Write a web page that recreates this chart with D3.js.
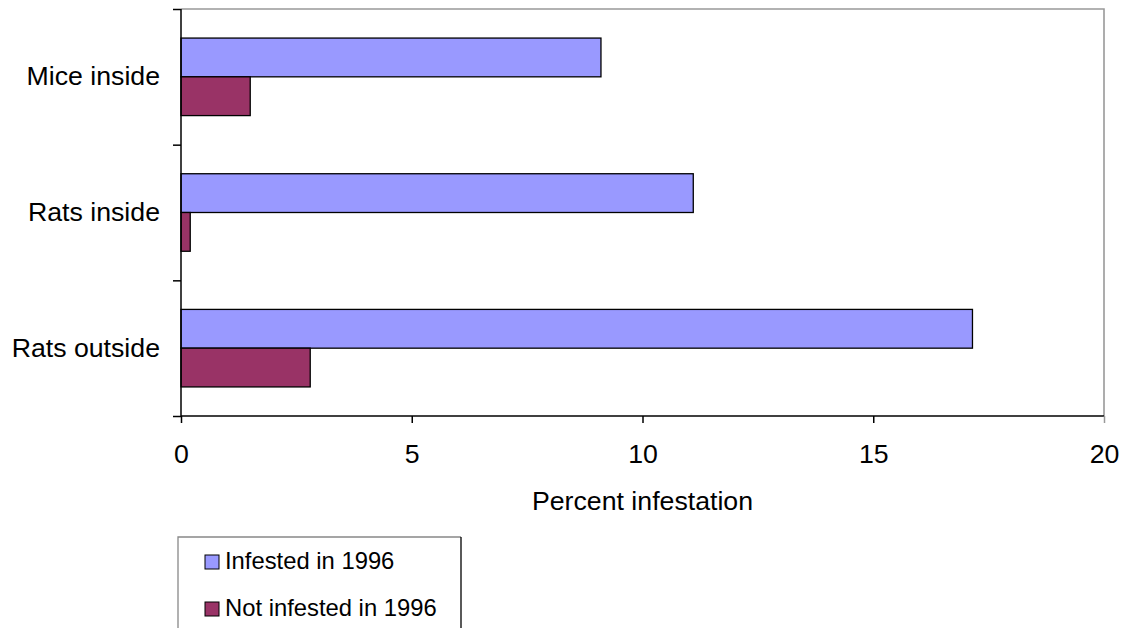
<!DOCTYPE html>
<html>
<head>
<meta charset="utf-8">
<script src="https://cdn.jsdelivr.net/npm/d3@7"></script>
<style>
  html, body { margin: 0; padding: 0; background: #fff; }
  svg { display: block; font-family: "Liberation Sans", Arial, sans-serif; }
</style>
</head>
<body>
<svg id="chart" width="1128" height="628"></svg>
<script>
const categories = ["Mice inside", "Rats inside", "Rats outside"];
const seriesNames = ["Infested in 1996", "Not infested in 1996"];
const infested1996 = [9.1, 11.1, 17.15];
const notInfested1996 = [1.5, 0.2, 2.8];
const xTicks = [0, 5, 10, 15, 20];
const colors = ["#9999FF", "#993366"];
const xTitle = "Percent infestation";

const svg = d3.select("#chart");
const L = 181, R = 1104, T = 9, B = 416;
const FS = 26.7;

const x = d3.scaleLinear().domain([0, 20]).range([L, R]);
const y = d3.scaleBand().domain(categories).range([T, B]).padding(0);
const barH = y.bandwidth() / 3.5;
const y1 = d3.scaleBand().domain(seriesNames).range([barH * 0.75, barH * 2.75]).padding(0);

// plot border (top / right gray)
svg.append("path")
  .attr("d", `M${L},${T}H${R}V${B}`)
  .attr("fill", "none").attr("stroke", "#999").attr("stroke-width", 1.6);

// bars
const series = [infested1996, notInfested1996];
series.forEach((vals, si) => {
  svg.append("g").selectAll("rect")
    .data(vals)
    .join("rect")
    .attr("x", x(0))
    .attr("y", (d, i) => y(categories[i]) + y1(seriesNames[si]))
    .attr("width", d => x(d) - x(0))
    .attr("height", y1.bandwidth())
    .attr("fill", colors[si])
    .attr("stroke", "#000")
    .attr("stroke-width", 1.3);
});

// x axis
const xAxis = svg.append("g").attr("transform", `translate(0,${B})`)
  .call(d3.axisBottom(x).tickValues(xTicks).tickSize(7).tickPadding(21).tickFormat(d3.format("d")));
xAxis.select(".domain").attr("stroke", "#000").attr("stroke-width", 1.5)
  .attr("d", `M${L},0H${R}`);
xAxis.selectAll(".tick line").attr("stroke", (d) => d === 20 ? "#999" : "#000").attr("stroke-width", 1.5);
xAxis.selectAll(".tick text").attr("font-size", FS).attr("fill", "#000")
  .attr("font-family", "Liberation Sans, Arial, sans-serif");

// y axis ticks at band boundaries
const yb = d3.scaleLinear().domain([0, categories.length]).range([B, T]);
const yAxis = svg.append("g").attr("transform", `translate(${L},0)`)
  .call(d3.axisLeft(yb).tickValues(d3.range(categories.length + 1)).tickSize(8).tickFormat(""));
yAxis.select(".domain").attr("stroke", "#000").attr("stroke-width", 1.5).attr("d", `M0,${T}V${B}`);
yAxis.selectAll(".tick line").attr("stroke", "#000").attr("stroke-width", 1.5);

// category labels
const yLab = svg.append("g").attr("transform", `translate(${L},0)`)
  .call(d3.axisLeft(y).tickSize(0).tickPadding(21));
yLab.select(".domain").remove();
yLab.selectAll(".tick text").attr("font-size", FS).attr("fill", "#000")
  .attr("font-family", "Liberation Sans, Arial, sans-serif");

// x title
svg.append("text")
  .attr("x", (L + R) / 2).attr("y", 510)
  .attr("text-anchor", "middle")
  .attr("font-size", FS)
  .text(xTitle);

// legend
const lg = svg.append("g");
lg.append("path").attr("d", "M178,640V537H461").attr("fill", "none").attr("stroke", "#888").attr("stroke-width", 1.3);
lg.append("path").attr("d", "M461,537V640").attr("fill", "none").attr("stroke", "#000").attr("stroke-width", 1.3);
seriesNames.forEach((name, i) => {
  const by = 569 + i * 47;
  lg.append("rect").attr("x", 205).attr("y", by - 14).attr("width", 14).attr("height", 14)
    .attr("fill", colors[i]).attr("stroke", "#000").attr("stroke-width", 1);
  lg.append("text").attr("x", 225).attr("y", by).attr("font-size", 23.8).text(name);
});
</script>
</body>
</html>
